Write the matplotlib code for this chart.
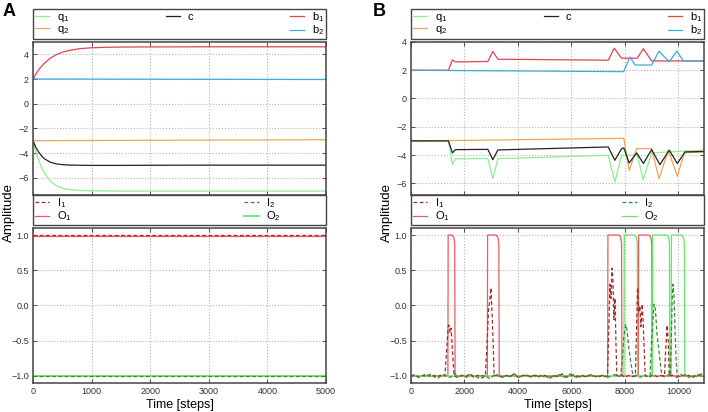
"""Amplitude traces for the two-unit network: A (constant input), B (switching input)."""

import matplotlib
matplotlib.use('Agg')
import matplotlib.pyplot as plt
from matplotlib.lines import Line2D

plt.rcParams['font.family'] = ['Liberation Sans', 'DejaVu Sans']
plt.rcParams['mathtext.default'] = 'regular'

# ---- panel A, top (weights, exponential settling) ----
A_T = [0, 50, 100, 150, 200, 300, 400, 500, 600, 800, 1000, 1250, 1500, 2000, 3000, 5000]
A_Q1 = [-3.0, -3.9, -4.6, -5.2, -5.65, -6.3, -6.65, -6.85, -6.95, -7.03, -7.06, -7.07,
        -7.08, -7.08, -7.08, -7.08]
A_C = [-3.0, -3.55, -3.95, -4.25, -4.48, -4.75, -4.88, -4.94, -4.97, -4.99, -5.0, -5.0,
       -5.0, -4.99, -4.98, -4.98]
A_B1 = [2.0, 2.40, 2.76, 3.05, 3.30, 3.70, 3.98, 4.17, 4.30, 4.46, 4.53, 4.57, 4.59,
        4.60, 4.61, 4.61]
A_T_FLAT = [0, 5000]
A_Q2 = [-3.0, -2.92]
A_B2 = [2.0, 1.96]

# ---- panel A, bottom (inputs / outputs, constant) ----
A_I1 = [1.0, 1.0]
A_O1 = [0.99, 0.99]
A_I2 = [-1.0, -1.0]
A_O2 = [-1.0, -1.0]

# ---- panel B, top ----
B_T_Q1 = [0, 1400, 1550, 1660, 2875, 3060, 3250, 7375, 7625, 7875, 8460, 8690, 9000, 10960]
B_Q1 = [-3.0, -3.0, -4.68, -4.26, -4.25, -5.68, -4.26, -4.02, -5.91, -4.02, -4.0, -5.75,
        -3.85, -3.65]
B_T_Q2 = [0, 1400, 7960, 8160, 8440, 9000, 9275, 9625, 9960, 10225, 10960]
B_Q2 = [-3.0, -2.98, -2.82, -5.1, -3.55, -3.55, -5.68, -3.66, -5.5, -3.85, -3.78]
B_T_C = [0, 1400, 1550, 1660, 2875, 3060, 3250, 7375, 7625, 7875, 7960, 8160, 8440, 8690,
         9000, 9310, 9660, 9960, 10250, 10960]
B_C = [-3.0, -3.0, -3.85, -3.62, -3.6, -4.33, -3.64, -3.43, -4.37, -3.55, -3.5, -4.56,
       -3.85, -4.6, -3.62, -4.68, -3.66, -4.6, -3.78, -3.75]
B_T_B1 = [0, 1400, 1550, 1660, 2875, 3060, 3250, 7375, 7600, 7875, 8460, 8690, 9000, 10960]
B_B1 = [2.0, 2.0, 2.73, 2.59, 2.62, 3.33, 2.78, 2.71, 3.56, 2.85, 2.85, 3.52, 2.66, 2.66]
B_T_B2 = [0, 7950, 8190, 8380, 9000, 9275, 9660, 9940, 10190, 10960]
B_B2 = [2.0, 1.9, 2.94, 2.37, 2.37, 3.35, 2.6, 3.35, 2.66, 2.65]

# ---- panel B, bottom ----
B_T_I1 = [0, 150, 300, 450, 600, 750, 900, 1050, 1200,
          1270, 1330, 1390, 1425, 1460, 1500, 1545, 1585, 1615,
          1750, 1900, 2050, 2200, 2350, 2500, 2650,
          2780, 2840, 2900, 2940, 2990, 3030, 3070, 3110,
          3250, 3400, 3550, 3700, 3850, 4000, 4150, 4300, 4450, 4600,
          4750, 4900, 5050, 5200, 5350, 5500, 5650, 5800, 5950, 6100,
          6250, 6400, 6550, 6700, 6850, 7000, 7150, 7300,
          7350, 7400, 7440, 7480, 7515, 7550, 7590, 7630, 7670, 7700,
          7850, 8000, 8150, 8300,
          8390, 8430, 8475, 8520, 8560, 8600, 8650, 8700, 8760,
          8900, 9050, 9200, 9350,
          9480, 9530, 9580, 9620, 9660,
          9800, 9950, 10100, 10250, 10400, 10550, 10700, 10850, 10960]
B_I1 = [-1.00, -0.98, -1.02, -0.99, -1.01, -0.97, -1.02, -1.00, -0.98,
        -1.00, -0.65, -0.30, -0.28, -0.38, -0.32, -0.60, -0.85, -1.00,
        -1.02, -0.99, -1.01, -0.97, -1.02, -0.99, -1.03,
        -1.00, -0.60, -0.05, 0.05, 0.25, -0.10, -0.50, -1.00,
        -0.98, -1.02, -0.99, -1.01, -0.97, -1.02, -1.00, -0.98, -1.01, -0.99,
        -1.02, -0.98, -1.00, -1.03, -0.99, -1.01, -0.97, -1.02, -1.00, -0.98,
        -1.01, -0.99, -1.02, -0.98, -1.00, -1.02, -0.99, -1.01,
        -1.00, -0.30, 0.30, 0.10, 0.53, 0.40, -0.20, 0.10, -0.60, -1.00,
        -0.98, -1.02, -0.99, -1.01,
        -1.00, -0.40, 0.25, -0.10, 0.00, -0.30, 0.02, -0.40, -1.00,
        -1.02, -0.98, -1.01, -0.99,
        -1.00, -0.60, -0.28, -0.50, -1.00,
        -0.99, -1.02, -0.98, -1.01, -0.99, -1.02, -0.98, -1.00, -1.01]
B_T_I2 = [0, 120, 270, 420, 570, 720, 870, 1020, 1170, 1320, 1470, 1620, 1770, 1920, 2070,
          2220, 2370, 2520, 2670, 2820, 2970, 3120, 3270, 3420, 3570, 3720, 3870, 4020, 4170,
          4320, 4470, 4620, 4770, 4920, 5070, 5220, 5370, 5520, 5670, 5820, 5970, 6120, 6270,
          6420, 6570, 6720, 6870, 7020, 7170, 7320, 7470, 7620, 7770,
          7830, 7900, 7960, 8030, 8080, 8130, 8200, 8300,
          8420, 8570, 8720, 8870,
          8940, 9000, 9060, 9090, 9140, 9200, 9260, 9320, 9380,
          9520, 9640,
          9700, 9740, 9770, 9800, 9840, 9880, 9920, 9960,
          10100, 10250, 10400, 10550, 10700, 10850, 10960]
B_I2 = [-1.01, -0.98, -1.02, -1.00, -0.97, -1.01, -0.99, -1.03, -0.98, -1.00, -1.02, -0.97,
        -1.01, -0.99, -1.02,
        -0.98, -1.00, -1.03, -0.99, -1.01, -1.04, -0.98, -1.00, -1.02, -0.99, -1.01, -0.97,
        -1.02, -1.00,
        -0.99, -1.02, -0.98, -1.01, -1.00, -1.03, -0.99, -1.01, -0.98, -1.02, -1.00, -0.97,
        -1.01, -1.03,
        -0.99, -1.01, -0.98, -1.02, -1.00, -0.99, -1.03, -1.00, -0.98, -1.01,
        -1.00, -0.80, -0.45, -0.27, -0.35, -0.55, -0.75, -1.00,
        -0.99, -1.02, -0.98, -1.01,
        -1.00, -0.50, -0.15, 0.02, -0.05, -0.40, -0.60, -0.80, -1.00,
        -1.02, -0.98,
        -1.00, -0.40, 0.10, 0.30, 0.10, -0.40, -0.80, -1.00,
        -1.01, -0.98, -1.02, -0.99, -1.01, -0.97, -1.00]
B_T_O1 = [0, 1380, 1390, 1530, 1600, 1635, 1650,
          2855, 2865, 3180, 3250, 3285, 3300,
          7355, 7365, 7770, 7840, 7875, 7890,
          8505, 8515, 8900, 8970, 9005, 9020, 10960]
B_O1 = [-1.0, -1.0, 1.0, 1.0, 0.97, 0.88, -1.0,
        -1.0, 1.0, 1.0, 0.97, 0.88, -1.0,
        -1.0, 1.0, 1.0, 0.97, 0.88, -1.0,
        -1.0, 1.0, 1.0, 0.97, 0.88, -1.0, -1.0]
B_T_O2 = [0, 7966, 7976, 8360, 8430, 8465, 8476,
          9030, 9040, 9560, 9630, 9665, 9680,
          9730, 9740, 10120, 10190, 10225, 10240, 10960]
B_O2 = [-1.0, -1.0, 1.0, 1.0, 0.97, 0.88, -1.0,
        -1.0, 1.0, 1.0, 0.97, 0.88, -1.0,
        -1.0, 1.0, 1.0, 0.97, 0.88, -1.0, -1.0]

# colours
C_Q1 = '#90ee90'
C_Q2 = '#f2a35a'
C_C = '#222222'
C_B1 = '#e8404f'
C_B2 = '#3fa8e0'
C_I1 = '#a32a2a'
C_O1 = '#ef5a5a'
C_I2 = '#2f8f2f'
C_O2 = '#62e862'

LW = 0.9
LEG_KW = dict(loc='lower left', borderaxespad=0, fontsize=8, handlelength=1.3,
              handletextpad=0.7, borderpad=0.15, labelspacing=-0.05, fancybox=False,
              framealpha=1)


def style_axes(ax, xlim, ylim, xticks, yticks, show_x):
    ax.set_xlim(*xlim)
    ax.set_ylim(*ylim)
    ax.set_xticks(xticks)
    ax.set_yticks(yticks)
    ax.grid(True, color='#b5b5b5', linestyle=':', linewidth=0.8)
    ax.tick_params(direction='in', length=3, width=0.6, labelsize=6.5, colors='#333333',
                   top=True, right=True, pad=3)
    if not show_x:
        ax.tick_params(labelbottom=False)
    for sp in ax.spines.values():
        sp.set_color('#444444')
        sp.set_linewidth(1.1)


def top_legend(ax, lines):
    blank = Line2D([], [], color='none')
    handles = [lines[0], lines[1], lines[2], blank, lines[3], lines[4]]
    labels = ['q$_1$', 'q$_2$', 'c', '', 'b$_1$', 'b$_2$']
    leg = ax.legend(handles, labels, ncol=3, mode='expand',
                    bbox_to_anchor=(0, 1.02, 1, 0.2), **LEG_KW)
    leg.get_frame().set_edgecolor('#444444')
    leg.get_frame().set_linewidth(1.0)


def bottom_legend(ax, lines):
    leg1 = ax.legend(lines[:2], ['I$_1$', 'O$_1$'], ncol=1, mode='expand',
                     bbox_to_anchor=(0, 1.02, 1, 0.2), **LEG_KW)
    leg1.get_frame().set_edgecolor('#444444')
    leg1.get_frame().set_linewidth(1.0)
    ax.add_artist(leg1)
    ax.legend(lines[2:], ['I$_2$', 'O$_2$'], frameon=False,
              bbox_to_anchor=(0.715, 1.02), **LEG_KW)


fig = plt.figure(figsize=(7.08, 4.12), dpi=100)

panels = [
    (0.0466, (0, 5000), range(0, 5001, 1000), (-7.4, 5.0)),
    (0.5805, (0, 10960), range(0, 10001, 2000), (-6.83, 4.0)),
]
W = 0.4139

# panel A
ax_top = fig.add_axes([panels[0][0], 0.5267, W, 0.3714])
ax_bot = fig.add_axes([panels[0][0], 0.0704, W, 0.3762])
l_q1, = ax_top.plot(A_T, A_Q1, color=C_Q1, lw=LW)
l_q2, = ax_top.plot(A_T_FLAT, A_Q2, color=C_Q2, lw=LW)
l_c, = ax_top.plot(A_T, A_C, color=C_C, lw=LW)
l_b1, = ax_top.plot(A_T, A_B1, color=C_B1, lw=LW)
l_b2, = ax_top.plot(A_T_FLAT, A_B2, color=C_B2, lw=LW)
top_legend(ax_top, [l_q1, l_q2, l_c, l_b1, l_b2])
l_o1, = ax_bot.plot(A_T_FLAT, A_O1, color=C_O1, lw=LW)
l_o2, = ax_bot.plot(A_T_FLAT, A_O2, color=C_O2, lw=LW * 1.4)
l_i1, = ax_bot.plot(A_T_FLAT, A_I1, color=C_I1, lw=LW, dashes=(3, 2))
l_i2, = ax_bot.plot(A_T_FLAT, A_I2, color=C_I2, lw=LW, dashes=(3, 2))
bottom_legend(ax_bot, [l_i1, l_o1, l_i2, l_o2])
style_axes(ax_top, panels[0][1], panels[0][3], panels[0][2], [-6, -4, -2, 0, 2, 4], False)
style_axes(ax_bot, panels[0][1], (-1.1, 1.1), panels[0][2], [-1, -0.5, 0, 0.5, 1], True)
ax_bot.set_xlabel('Time [steps]', fontsize=9, labelpad=2)

# panel B
ax_top = fig.add_axes([panels[1][0], 0.5267, W, 0.3714])
ax_bot = fig.add_axes([panels[1][0], 0.0704, W, 0.3762])
l_q1, = ax_top.plot(B_T_Q1, B_Q1, color=C_Q1, lw=LW)
l_q2, = ax_top.plot(B_T_Q2, B_Q2, color=C_Q2, lw=LW)
l_c, = ax_top.plot(B_T_C, B_C, color=C_C, lw=LW)
l_b1, = ax_top.plot(B_T_B1, B_B1, color=C_B1, lw=LW)
l_b2, = ax_top.plot(B_T_B2, B_B2, color=C_B2, lw=LW)
top_legend(ax_top, [l_q1, l_q2, l_c, l_b1, l_b2])
l_o1, = ax_bot.plot(B_T_O1, B_O1, color=C_O1, lw=LW)
l_o2, = ax_bot.plot(B_T_O2, B_O2, color=C_O2, lw=LW)
l_i1, = ax_bot.plot(B_T_I1, B_I1, color=C_I1, lw=LW, dashes=(3, 2))
l_i2, = ax_bot.plot(B_T_I2, B_I2, color=C_I2, lw=LW, dashes=(3, 2))
bottom_legend(ax_bot, [l_i1, l_o1, l_i2, l_o2])
style_axes(ax_top, panels[1][1], panels[1][3], panels[1][2], [-6, -4, -2, 0, 2, 4], False)
style_axes(ax_bot, panels[1][1], (-1.1, 1.1), panels[1][2], [-1, -0.5, 0, 0.5, 1], True)
ax_bot.set_xlabel('Time [steps]', fontsize=9, labelpad=2)

# shared labels
fig.text(0.012, 0.485, 'Amplitude', rotation=90, ha='center', va='center', fontsize=9.5)
fig.text(0.547, 0.485, 'Amplitude', rotation=90, ha='center', va='center', fontsize=9.5)
fig.text(0.004, 0.993, 'A', fontsize=13, fontweight='bold', ha='left', va='top')
fig.text(0.527, 0.993, 'B', fontsize=13, fontweight='bold', ha='left', va='top')

fig.savefig('out.png', dpi=100)
